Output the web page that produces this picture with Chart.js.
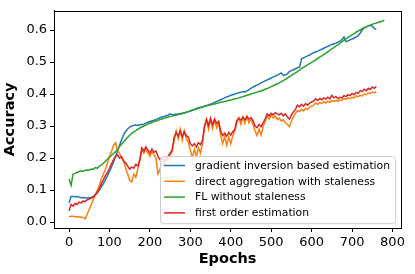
<!DOCTYPE html>
<html>
<head>
<meta charset="utf-8">
<script src="https://cdn.jsdelivr.net/npm/chart.js@4.4.1/dist/chart.umd.min.js"></script>
<style>
  html, body { margin: 0; padding: 0; background: #fff; }
  canvas { display: block; }
</style>
</head>
<body>
<canvas id="acc" width="415" height="274"></canvas>
<script>
// epochs, every 5 (green runs to 780, the others stop at 760)
var epochs = [];
for (var e = 0; e <= 780; e += 5) epochs.push(e);

var xTicks = [0, 100, 200, 300, 400, 500, 600, 700, 800];
var yTicks = [0.0, 0.1, 0.2, 0.3, 0.4, 0.5, 0.6];

var labels = ["gradient inversion based estimation", "direct aggregation with staleness",
              "FL without staleness", "first order estimation"];
var colors = ["#1f77b4", "#ff7f0e", "#2ca02c", "#d62728"];

var gradInv = [0.060,0.080,0.080,0.079,0.080,0.078,0.076,0.077,0.075,0.075,
  0.076,0.077,0.080,0.085,0.092,0.100,0.110,0.120,0.132,0.145,
  0.158,0.172,0.188,0.205,0.222,0.240,0.258,0.272,0.283,0.291,
  0.297,0.300,0.302,0.303,0.302,0.304,0.305,0.306,0.309,0.312,
  0.314,0.316,0.318,0.320,0.323,0.326,0.328,0.330,0.332,0.334,
  0.338,0.335,0.336,0.337,0.338,0.339,0.340,0.341,0.343,0.345,
  0.347,0.350,0.352,0.355,0.357,0.359,0.360,0.362,0.364,0.366,
  0.368,0.371,0.374,0.377,0.379,0.382,0.385,0.388,0.391,0.393,
  0.396,0.398,0.400,0.402,0.404,0.406,0.408,0.406,0.410,0.413,
  0.418,0.422,0.425,0.428,0.431,0.435,0.438,0.441,0.444,0.447,
  0.450,0.453,0.456,0.459,0.462,0.466,0.458,0.460,0.463,0.470,
  0.473,0.476,0.479,0.482,0.484,0.510,0.513,0.516,0.519,0.522,
  0.526,0.529,0.532,0.534,0.537,0.540,0.543,0.546,0.549,0.552,
  0.555,0.557,0.559,0.562,0.565,0.570,0.578,0.563,0.566,0.569,
  0.572,0.575,0.578,0.582,0.590,0.600,0.607,0.610,0.613,0.615,
  0.612,0.605,0.602];

var direct = [0.017,0.018,0.018,0.017,0.017,0.016,0.015,0.014,0.010,0.025,
  0.040,0.055,0.070,0.085,0.100,0.115,0.135,0.150,0.165,0.185,
  0.205,0.220,0.240,0.248,0.225,0.215,0.200,0.190,0.170,0.150,
  0.130,0.125,0.150,0.140,0.165,0.190,0.225,0.215,0.228,0.215,
  0.205,0.220,0.210,0.200,0.150,0.165,0.185,0.175,0.190,0.200,
  0.210,0.220,0.255,0.285,0.260,0.290,0.255,0.285,0.260,0.250,
  0.225,0.200,0.228,0.205,0.232,0.215,0.245,0.295,0.315,0.290,
  0.320,0.292,0.318,0.295,0.310,0.270,0.245,0.268,0.240,0.265,
  0.245,0.270,0.285,0.310,0.325,0.305,0.328,0.308,0.330,0.310,
  0.322,0.305,0.285,0.270,0.290,0.272,0.298,0.315,0.330,0.322,
  0.335,0.325,0.332,0.320,0.325,0.315,0.320,0.310,0.305,0.298,
  0.315,0.330,0.340,0.348,0.345,0.352,0.348,0.355,0.352,0.358,
  0.362,0.365,0.372,0.368,0.374,0.370,0.376,0.372,0.378,0.374,
  0.380,0.376,0.380,0.378,0.382,0.380,0.386,0.384,0.388,0.386,
  0.390,0.388,0.394,0.392,0.396,0.394,0.400,0.398,0.404,0.402,
  0.406,0.404,0.407];

var noStale = [0.135,0.115,0.150,0.152,0.155,0.158,0.160,0.158,0.162,0.163,
  0.162,0.166,0.165,0.170,0.168,0.175,0.178,0.184,0.190,0.196,
  0.203,0.208,0.214,0.220,0.228,0.236,0.243,0.251,0.258,0.265,
  0.271,0.277,0.282,0.286,0.290,0.294,0.297,0.300,0.303,0.306,
  0.309,0.311,0.314,0.316,0.318,0.320,0.322,0.324,0.326,0.328,
  0.330,0.331,0.333,0.334,0.336,0.337,0.339,0.341,0.343,0.345,
  0.347,0.349,0.351,0.353,0.355,0.357,0.359,0.361,0.363,0.365,
  0.366,0.368,0.369,0.371,0.372,0.374,0.375,0.377,0.378,0.380,
  0.381,0.383,0.385,0.386,0.388,0.390,0.392,0.394,0.396,0.398,
  0.400,0.402,0.404,0.406,0.408,0.410,0.412,0.415,0.417,0.420,
  0.423,0.426,0.429,0.432,0.435,0.439,0.442,0.446,0.450,0.454,
  0.458,0.462,0.466,0.470,0.475,0.479,0.483,0.487,0.491,0.495,
  0.499,0.503,0.507,0.511,0.515,0.519,0.523,0.528,0.532,0.536,
  0.541,0.545,0.550,0.554,0.559,0.563,0.568,0.572,0.577,0.581,
  0.585,0.589,0.593,0.597,0.600,0.604,0.607,0.610,0.613,0.615,
  0.618,0.620,0.622,0.624,0.626,0.628,0.630];

var firstOrder = [0.035,0.055,0.050,0.058,0.055,0.062,0.060,0.066,0.064,0.070,
  0.072,0.075,0.078,0.085,0.092,0.105,0.120,0.132,0.145,0.155,
  0.168,0.182,0.195,0.205,0.210,0.200,0.205,0.190,0.185,0.175,
  0.165,0.172,0.168,0.180,0.175,0.195,0.232,0.222,0.235,0.225,
  0.215,0.228,0.218,0.222,0.205,0.195,0.200,0.190,0.198,0.205,
  0.215,0.225,0.265,0.280,0.268,0.285,0.268,0.282,0.270,0.265,
  0.245,0.238,0.245,0.235,0.248,0.242,0.255,0.300,0.322,0.302,
  0.325,0.305,0.322,0.308,0.315,0.285,0.270,0.278,0.268,0.280,
  0.272,0.282,0.290,0.318,0.325,0.318,0.328,0.320,0.330,0.322,
  0.326,0.318,0.300,0.295,0.305,0.298,0.310,0.322,0.338,0.332,
  0.340,0.335,0.342,0.338,0.335,0.340,0.332,0.338,0.328,0.322,
  0.335,0.345,0.352,0.365,0.360,0.368,0.362,0.370,0.365,0.372,
  0.375,0.378,0.385,0.380,0.386,0.382,0.388,0.384,0.390,0.385,
  0.396,0.388,0.392,0.386,0.390,0.388,0.395,0.392,0.398,0.395,
  0.402,0.398,0.405,0.402,0.410,0.408,0.415,0.410,0.418,0.414,
  0.422,0.418,0.424];

var series = [gradInv, direct, noStale, firstOrder];

function points(vals) {
  var out = [];
  for (var i = 0; i < vals.length; i++) out.push({x: epochs[i], y: vals[i]});
  return out;
}

// matplotlib style frame + legend box in the lower right of the axes
var frameAndLegend = {
  id: "frameAndLegend",
  afterDraw: function(chart) {
    var ctx = chart.ctx, a = chart.chartArea;
    ctx.save();
    ctx.strokeStyle = "#000";
    ctx.lineWidth = 1;
    ctx.strokeRect(Math.round(a.left) + 0.5, Math.round(a.top) + 0.5,
                   Math.round(a.right - a.left), Math.round(a.bottom - a.top));

    ctx.font = "10.8px 'DejaVu Sans'";
    var w = 0;
    for (var i = 0; i < labels.length; i++) w = Math.max(w, ctx.measureText(labels[i]).width);
    var rowH = 15.8;
    var boxW = 4 + 21 + 10 + w + 5;
    var boxH = labels.length * rowH + 4;
    var bx = Math.round(a.right - 6 - boxW), by = Math.round(a.bottom - 5 - boxH);
    ctx.beginPath();
    ctx.roundRect(bx + 0.5, by + 0.5, boxW, boxH, 3);
    ctx.fillStyle = "rgba(255,255,255,0.8)";
    ctx.fill();
    ctx.strokeStyle = "#cccccc";
    ctx.stroke();
    ctx.textBaseline = "middle";
    for (var j = 0; j < labels.length; j++) {
      var cy = by + 9.5 + j * rowH;
      ctx.strokeStyle = colors[j];
      ctx.lineWidth = 1.5;
      ctx.beginPath();
      ctx.moveTo(bx + 4, cy);
      ctx.lineTo(bx + 25, cy);
      ctx.stroke();
      ctx.fillStyle = "#000";
      ctx.fillText(labels[j], bx + 35, cy + 0.5);
    }
    ctx.restore();
  }
};

var ctx = document.getElementById("acc");
var chart = new Chart(ctx, {
  type: "line",
  data: {
    datasets: series.map(function(s, i) {
      return {
        label: labels[i],
        data: points(s),
        borderColor: colors[i],
        backgroundColor: colors[i],
        borderWidth: 1.5,
        pointRadius: 0,
        tension: 0,
        fill: false,
        order: 4 - i
      };
    })
  },
  options: {
    responsive: false,
    animation: false,
    devicePixelRatio: 1,
    layout: { padding: { top: 5, right: 14, left: 2, bottom: 6 } },
    plugins: { legend: { display: false }, tooltip: { enabled: false } },
    scales: {
      x: {
        type: "linear",
        min: -37, max: 821,
        afterBuildTicks: function(axis) { axis.ticks = xTicks.map(function(v) { return {value: v}; }); },
        grid: { drawOnChartArea: false, drawTicks: true, tickLength: 4, color: "#000" },
        border: { display: true, color: "#000" },
        ticks: { color: "#000", font: { family: "DejaVu Sans", size: 13 }, padding: 3, maxRotation: 0 },
        title: { display: true, text: "Epochs", color: "#000",
                 font: { family: "DejaVu Sans", size: 14.5, weight: "bold" }, padding: { top: -3, bottom: 0 } }
      },
      y: {
        min: -0.0185, max: 0.66,
        afterBuildTicks: function(axis) { axis.ticks = yTicks.map(function(v) { return {value: v}; }); },
        grid: { drawOnChartArea: false, drawTicks: true, tickLength: 4, color: "#000" },
        border: { display: true, color: "#000" },
        ticks: { color: "#000", font: { family: "DejaVu Sans", size: 13 }, padding: 3,
                 callback: function(v) { return v.toFixed(1); } },
        title: { display: true, text: "Accuracy", color: "#000",
                 font: { family: "DejaVu Sans", size: 14.5, weight: "bold" }, padding: { top: 0, bottom: 4 } }
      }
    }
  },
  plugins: [frameAndLegend]
});
</script>
</body>
</html>
